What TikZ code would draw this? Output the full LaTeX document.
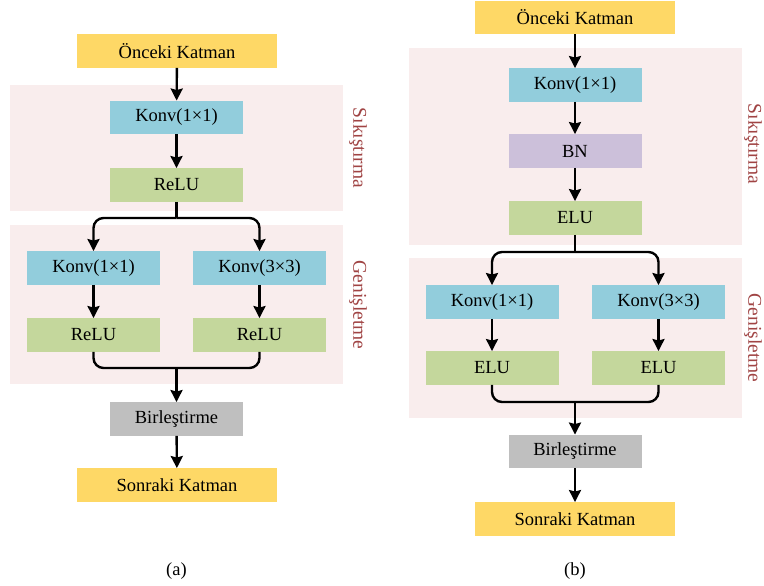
\documentclass[tikz,border=0pt]{standalone}
\usepackage{fontspec}
\setmainfont{Liberation Serif}
\usepackage{tikz}
\usetikzlibrary{arrows.meta}

\definecolor{katman}{RGB}{254,216,102}
\definecolor{konv}{RGB}{146,205,220}
\definecolor{akt}{RGB}{196,215,156}
\definecolor{bn}{RGB}{204,192,218}
\definecolor{birles}{RGB}{191,191,191}
\definecolor{blok}{RGB}{249,237,237}
\definecolor{etiket}{RGB}{160,68,68}

\begin{document}
\begin{tikzpicture}[x=1pt,y=-1pt,>={Stealth[length=12pt,width=12pt,inset=1.5pt]},
    font=\fontsize{18.5pt}{22pt}\selectfont]
    \tikzstyle{box}=[inner sep=0pt,minimum height=33.5pt,minimum width=133pt]
    \tikzstyle{wide}=[box,minimum width=200pt,fill=katman]
    \tikzstyle{conv}=[box,fill=konv]
    \tikzstyle{act}=[box,fill=akt]
    \tikzstyle{side}=[text=etiket,rotate=-90,inner sep=1pt,font=\fontsize{19.5pt}{22pt}\selectfont]
    \tikzstyle{line}=[line width=2.4pt,black]
    \tikzstyle{arr}=[line,->]
    \useasboundingbox (0,0) rectangle (764,586);

    % (a)
    \fill[blok] (10,85) rectangle (343,211);
    \fill[blok] (10,225) rectangle (343,384);
    \node[wide]          (a1) at (177,51)      {Önceki Katman};
    \node[conv]          (a2) at (176.5,117.5) {Konv(1×1)};
    \node[act]           (a3) at (176.5,185)   {ReLU};
    \node[conv]          (a4) at (93.5,268)    {Konv(1×1)};
    \node[conv]          (a5) at (259.5,268)   {Konv(3×3)};
    \node[act]           (a6) at (93.5,335)    {ReLU};
    \node[act]           (a7) at (259.5,335)   {ReLU};
    \node[box,fill=birles] (a8) at (176.5,419) {Birleştirme};
    \node[wide]          (a9) at (177,485)     {Sonraki Katman};
    \coordinate (asplit) at (176.5,218);
    \coordinate (ajoin)  at (176.5,368);
    \node[side] (asik) at (358,148) {Sıkıştırma};
    \node[side] (agen) at (358,305) {Genişletme};
    \node (alab) at (176.5,571) {(a)};

    \draw[arr] (a1) -- (a2);
    \draw[arr] (a2) -- (a3);
    \draw[line] (a3) -- (asplit);
    \draw[arr,rounded corners=10pt] (asplit) -| (a4);
    \draw[arr,rounded corners=10pt] (asplit) -| (a5);
    \draw[arr] (a4) -- (a6);
    \draw[arr] (a5) -- (a7);
    \draw[line,rounded corners=10pt] (a6) |- (ajoin) -| (a7);
    \draw[arr] (ajoin) -- (a8);
    \draw[arr] (a8) -- (a9);

    % (b)
    \fill[blok] (409,48) rectangle (742,245);
    \fill[blok] (409,258) rectangle (742,418);
    \node[wide]          (b1) at (575,17.5)  {Önceki Katman};
    \node[conv]          (b2) at (575,85)    {Konv(1×1)};
    \node[box,fill=bn]   (b3) at (575,151)   {BN};
    \node[act]           (b4) at (575,218)   {ELU};
    \node[conv]          (b5) at (492,302)   {Konv(1×1)};
    \node[conv]          (b6) at (658.5,302) {Konv(3×3)};
    \node[act]           (b7) at (492,368)   {ELU};
    \node[act]           (b8) at (658.5,368) {ELU};
    \node[box,fill=birles] (b9) at (575,451.5) {Birleştirme};
    \node[wide]          (b10) at (575,519)  {Sonraki Katman};
    \coordinate (bsplit) at (575,252);
    \coordinate (bjoin)  at (575,402);
    \node[side] (bsik) at (753,144) {Sıkıştırma};
    \node[side] (bgen) at (753,338) {Genişletme};
    \node (blab) at (575,571) {(b)};

    \draw[arr] (b1) -- (b2);
    \draw[arr] (b2) -- (b3);
    \draw[arr] (b3) -- (b4);
    \draw[line] (b4) -- (bsplit);
    \draw[arr,rounded corners=10pt] (bsplit) -| (b5);
    \draw[arr,rounded corners=10pt] (bsplit) -| (b6);
    \draw[arr] (b5) -- (b7);
    \draw[arr] (b6) -- (b8);
    \draw[line,rounded corners=10pt] (b7) |- (bjoin) -| (b8);
    \draw[arr] (bjoin) -- (b9);
    \draw[arr] (b9) -- (b10);
\end{tikzpicture}
\end{document}
